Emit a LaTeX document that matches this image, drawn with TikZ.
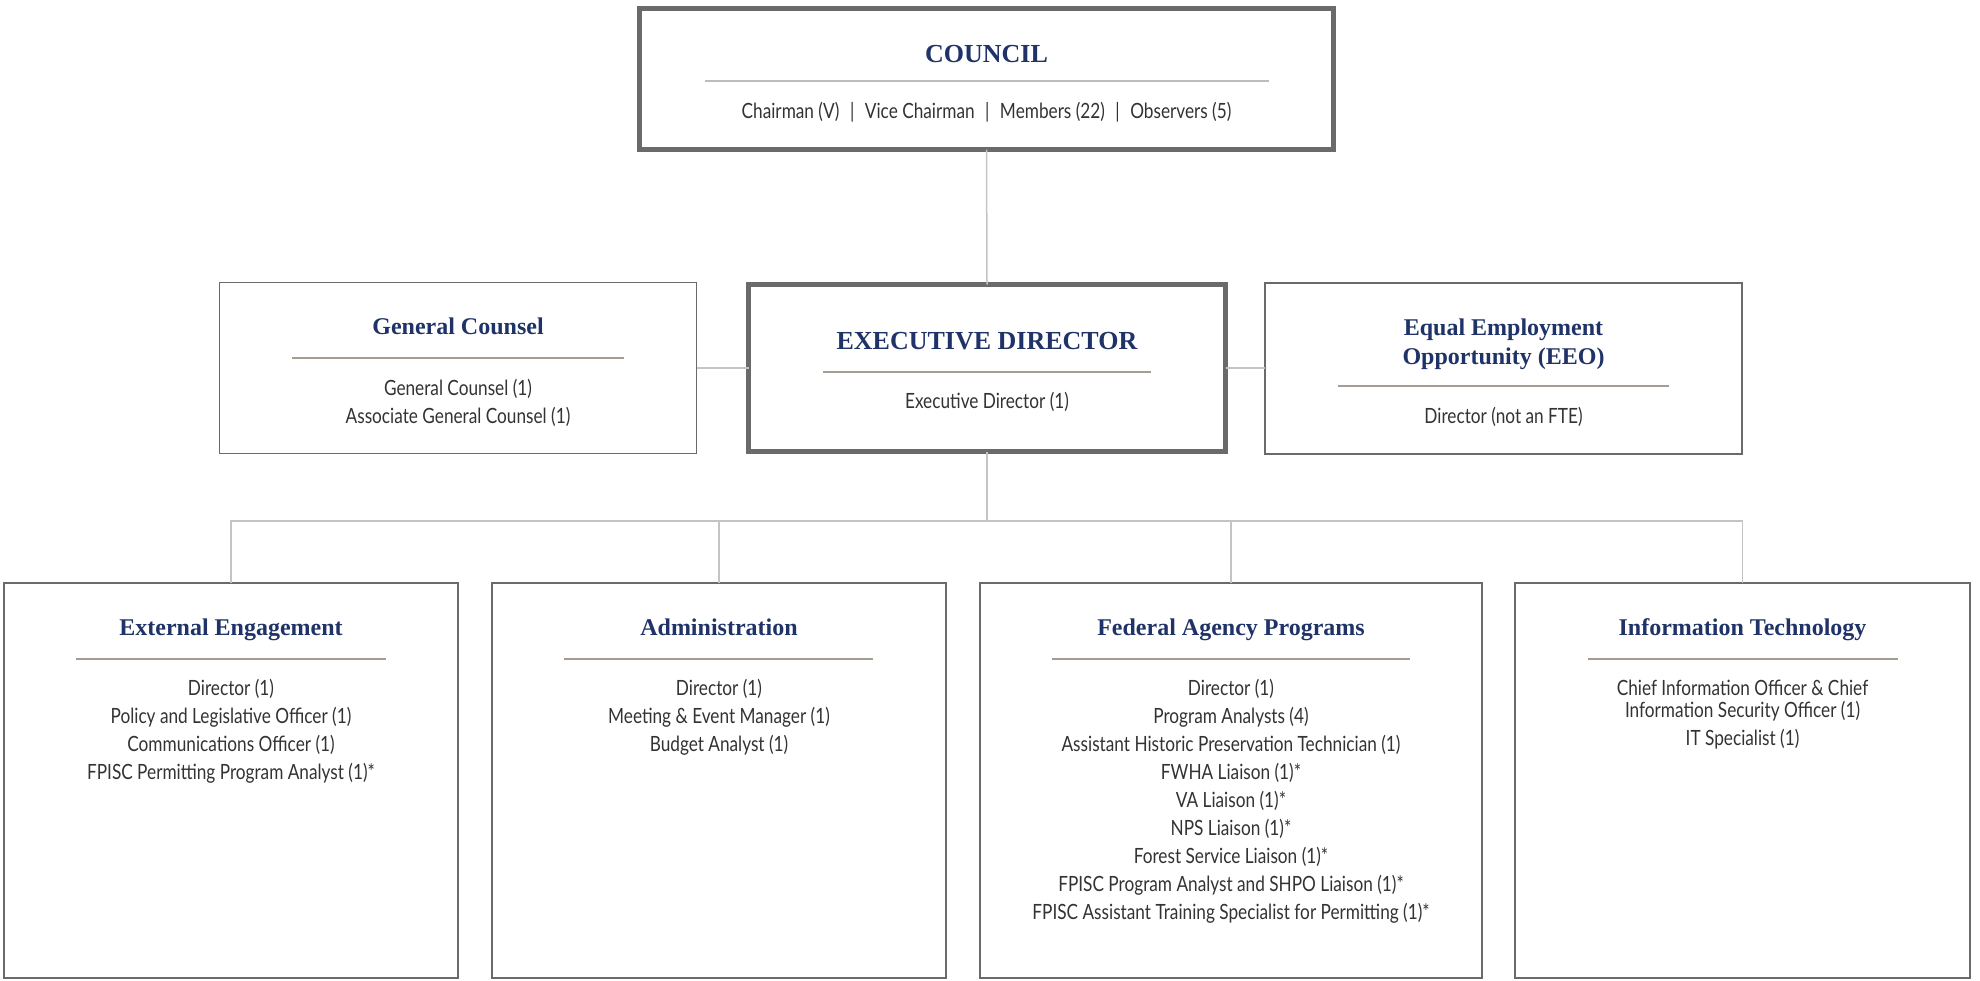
\documentclass[tikz,border=0pt]{standalone}
\usepackage{fontspec}
\setmainfont{Liberation Serif}
\newfontfamily\bodyfont[FakeStretch=0.82]{Lato}
\definecolor{navy}{HTML}{1F3368}
\definecolor{boxgray}{HTML}{6A6A6A}
\definecolor{conngray}{HTML}{C4C4C4}
\definecolor{taupe}{HTML}{A59D92}
\definecolor{lightrule}{HTML}{BDBDBD}
\definecolor{bodygray}{HTML}{333333}
\newcommand{\fs}{\rule{0pt}{18pt}}
\begin{document}
\begin{tikzpicture}[x=1pt,y=-1pt,
  box/.style={draw=boxgray, line width=1.5pt, rectangle, inner sep=0pt, outer sep=0pt, fill=white},
  bigbox/.style={box, line width=5pt},
  conn/.style={draw=conngray, line width=1.5pt},
  divider/.style={draw=taupe, line width=2pt},
  title/.style={text=navy, font=\bfseries\fontsize{24}{30}\selectfont, inner sep=0pt, anchor=base, align=center},
  bigtitle/.style={title, font=\bfseries\fontsize{26}{30}\selectfont},
  items/.style={text=bodygray, font=\bodyfont\fontsize{21}{28}\selectfont, align=center, inner sep=0pt, anchor=north},
  oneline/.style={text=bodygray, font=\bodyfont\fontsize{21}{28}\selectfont, inner sep=0pt, anchor=base}]
\useasboundingbox[fill=white] (0,0) rectangle (1980,980);

% ---------- boxes ----------
\node[bigbox, minimum width=694pt, minimum height=141pt] (council) at (986.5,79) {};
\node[box, minimum width=477pt, minimum height=171pt] (gc) at (458,368) {};
\node[bigbox, minimum width=477pt, minimum height=167pt] (ed) at (987,368) {};
\node[box, minimum width=477pt, minimum height=171pt] (eeo) at (1503.5,368.5) {};
\node[box, minimum width=454pt, minimum height=395pt] (ee) at (231,780.5) {};
\node[box, minimum width=454pt, minimum height=395pt] (adm) at (719,780.5) {};
\node[box, minimum width=502pt, minimum height=395pt] (fap) at (1231,780.5) {};
\node[box, minimum width=455pt, minimum height=395pt] (it) at (1742.5,780.5) {};

% ---------- connectors ----------
\coordinate (bus) at (987,521);
\draw[conn] (council.south) -- (ed.north);
\draw[conn] (gc.east) -- (gc.east -| ed.west);
\draw[conn] (ed.east) -- (ed.east -| eeo.west);
\draw[conn] (ed.south) -- (bus);
\draw[conn] (ee.north) |- (bus) -| (it.north);
\draw[conn] (adm.north) -- (adm.north |- bus);
\draw[conn] (fap.north) -- (fap.north |- bus);

% ---------- council ----------
\node[bigtitle] (councilT) at (986.5,62) {COUNCIL};
\draw[draw=lightrule, line width=1.5pt] (705,81) -- (1269,81);
\node[oneline] (councilS) at (986.5,118) {Chairman (V)\enspace|\enspace Vice Chairman\enspace|\enspace Members (22)\enspace|\enspace Observers (5)};

% ---------- middle row ----------
\node[title] (gcT) at (458,334) {General Counsel};
\draw[divider] (292,358) -- (624,358);
\node[items] (gcI) at (458,377) {\fs General Counsel (1)\\Associate General Counsel (1)};

\node[bigtitle] (edT) at (987,349) {EXECUTIVE DIRECTOR};
\draw[divider] (823,372) -- (1151,372);
\node[oneline] (edI) at (987,408) {Executive Director (1)};

\node[title, font=\bfseries\fontsize{24}{29}\selectfont, anchor=north] (eeoT) at (1503.5,317) {\rule{0pt}{18pt}Equal Employment\\Opportunity (EEO)};
\draw[divider] (1338,386) -- (1669,386);
\node[oneline] (eeoI) at (1503.5,423) {Director (not an FTE)};

% ---------- bottom row ----------
\node[title] (eeT) at (231,635) {External Engagement};
\draw[divider] (76,659) -- (386,659);
\node[items] (eeI) at (231,677) {\fs Director (1)\\Policy and Legislative Officer (1)\\Communications Officer (1)\\FPISC Permitting Program Analyst (1)*};

\node[title] (admT) at (719,635) {Administration};
\draw[divider] (564,659) -- (873,659);
\node[items] (admI) at (719,677) {\fs Director (1)\\Meeting \& Event Manager (1)\\Budget Analyst (1)};

\node[title] (fapT) at (1231,635) {Federal Agency Programs};
\draw[divider] (1052,659) -- (1410,659);
\node[items] (fapI) at (1231,677) {\fs Director (1)\\Program Analysts (4)\\Assistant Historic Preservation Technician (1)\\FWHA Liaison (1)*\\VA Liaison (1)*\\NPS Liaison (1)*\\Forest Service Liaison (1)*\\FPISC Program Analyst and SHPO Liaison (1)*\\FPISC Assistant Training Specialist for Permitting (1)*};

\node[title] (itT) at (1742.5,635) {Information Technology};
\draw[divider] (1588,659) -- (1898,659);
\node[items] (itI) at (1742.5,677) {\fs Chief Information Officer \& Chief\\[-6pt]Information Security Officer (1)\\IT Specialist (1)};
\end{tikzpicture}
\end{document}
